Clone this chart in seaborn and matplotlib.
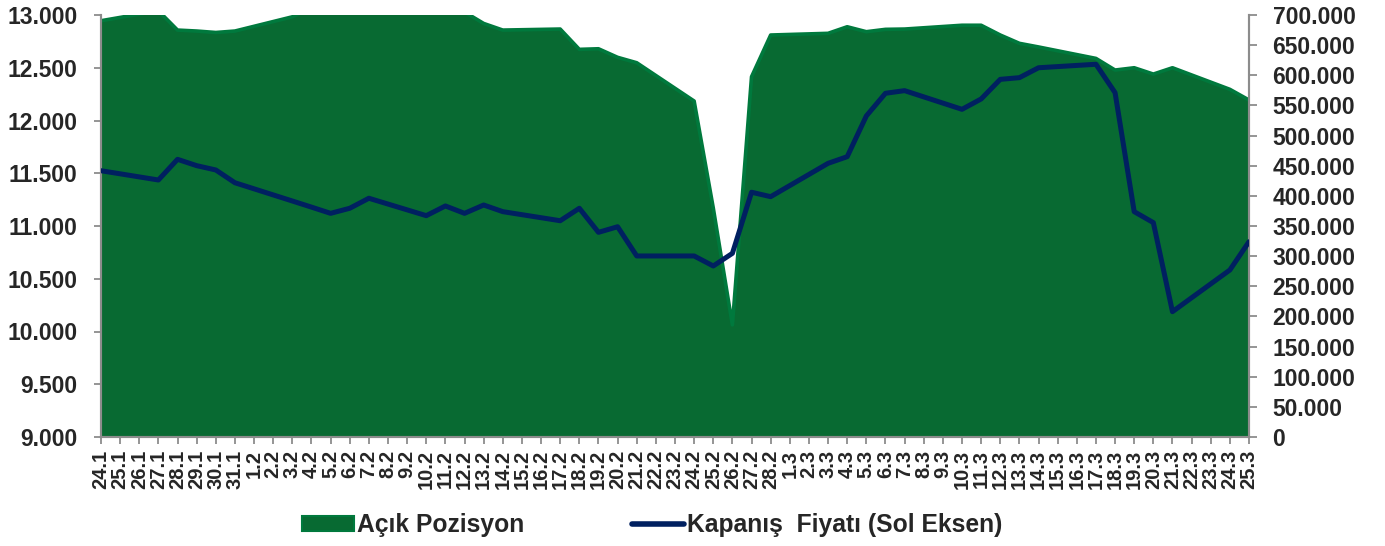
import matplotlib
matplotlib.use("Agg")
import matplotlib.pyplot as plt
import seaborn as sns
import pandas as pd
import numpy as np
from matplotlib.patches import Patch
from matplotlib.lines import Line2D
from matplotlib.ticker import FuncFormatter

# ---- data ----
trade_dates = [
    "2025-01-24", "2025-01-27", "2025-01-28", "2025-01-29", "2025-01-30", "2025-01-31",
    "2025-02-03", "2025-02-04", "2025-02-05", "2025-02-06", "2025-02-07",
    "2025-02-10", "2025-02-11", "2025-02-12", "2025-02-13", "2025-02-14",
    "2025-02-17", "2025-02-18", "2025-02-19", "2025-02-20", "2025-02-21",
    "2025-02-24", "2025-02-25", "2025-02-26", "2025-02-27", "2025-02-28",
    "2025-03-03", "2025-03-04", "2025-03-05", "2025-03-06", "2025-03-07",
    "2025-03-10", "2025-03-11", "2025-03-12", "2025-03-13", "2025-03-14",
    "2025-03-17", "2025-03-18", "2025-03-19", "2025-03-20", "2025-03-21",
    "2025-03-24", "2025-03-25",
]
closing_price = [
    11524, 11436, 11632, 11572, 11531, 11410,
    11237, 11179, 11120, 11168, 11263,
    11098, 11190, 11120, 11199, 11136,
    11050, 11168, 10940, 10993, 10716,
    10716, 10621, 10741, 11320, 11278,
    11594, 11657, 12043, 12258, 12283,
    12106, 12204, 12390, 12406, 12500,
    12533, 12264, 11136, 11032, 10188,
    10583, 10851,
]
open_interest = [
    690500, 707000, 675000, 673400, 671000, 673400,
    697000, 712000, 715000, 718000, 716000,
    712000, 710000, 705000, 686000, 675000,
    676700, 643000, 644000, 629800, 620800,
    557300, 380000, 186000, 597600, 666800,
    669600, 680500, 672300, 676200, 676700,
    683000, 683000, 666800, 653000, 647000,
    628000, 608700, 612500, 602000, 612500,
    576700, 559000,
]
tick_labels = [
    "24.1", "25.1", "26.1", "27.1", "28.1", "29.1", "30.1", "31.1",
    "1.2", "2.2", "3.2", "4.2", "5.2", "6.2", "7.2", "8.2", "9.2", "10.2",
    "11.2", "12.2", "13.2", "14.2", "15.2", "16.2", "17.2", "18.2", "19.2",
    "20.2", "21.2", "22.2", "23.2", "24.2", "25.2", "26.2", "27.2", "28.2",
    "1.3", "2.3", "3.3", "4.3", "5.3", "6.3", "7.3", "8.3", "9.3", "10.3",
    "11.3", "12.3", "13.3", "14.3", "15.3", "16.3", "17.3", "18.3", "19.3",
    "20.3", "21.3", "22.3", "23.3", "24.3", "25.3",
]
legend_labels = ["Açık Pozisyon", "Kapanış  Fiyatı (Sol Eksen)"]

# ---- style ----
FILL = "#086A32"
EDGE = "#00793D"
NAVY = "#002060"
GRAY = "#8C8C8C"

sns.set_style("white")
plt.rcParams["font.family"] = ["Liberation Sans", "DejaVu Sans"]
plt.rcParams["font.weight"] = "bold"

df = pd.DataFrame({
    "date": pd.to_datetime(trade_dates),
    "price": closing_price,
    "oi": open_interest,
})
tick_dates = pd.to_datetime(
    ["2025-%s-%s" % (lab.split(".")[1], lab.split(".")[0]) for lab in tick_labels]
)

fig = plt.figure(figsize=(13.85, 5.46), dpi=100)
W, H = 1385, 546
ax = fig.add_axes([101 / W, 1 - 437 / H, (1249 - 101) / W, (437 - 15) / H])
ax2 = ax.twinx()

# area (right axis)
ax2.fill_between(df["date"], 0, df["oi"], color=FILL, lw=0, zorder=1)
sns.lineplot(data=df, x="date", y="oi", ax=ax2, color=EDGE, lw=2.6, zorder=2)
# price line (left axis)
sns.lineplot(data=df, x="date", y="price", ax=ax, color=NAVY, lw=3.6, zorder=3)

ax.set_zorder(ax2.get_zorder() + 1)
ax.patch.set_visible(False)

ax.set_xlim(tick_dates[0], tick_dates[-1])
ax.set_ylim(9000, 13000)
ax2.set_ylim(0, 700000)
ax.set_yticks(np.arange(9000, 13001, 500))
ax2.set_yticks(np.arange(0, 700001, 50000))
ax.set_xticks(tick_dates)
ax.set_xticklabels(tick_labels)

fmt = FuncFormatter(lambda v, p: f"{v:,.0f}".replace(",", "."))
ax.yaxis.set_major_formatter(fmt)
ax2.yaxis.set_major_formatter(fmt)

for a in (ax, ax2):
    a.set_xlabel("")
    a.set_ylabel("")
    a.spines["top"].set_visible(False)
    for s in ("left", "right", "bottom"):
        a.spines[s].set_color(GRAY)
        a.spines[s].set_linewidth(1.5)

ax.tick_params(axis="y", left=True, direction="out", length=5, width=1.3,
               color=GRAY, pad=12, labelsize=16.5)
ax2.tick_params(axis="y", right=True, direction="out", length=6, width=1.3,
                color=GRAY, pad=11, labelsize=16.5)
ax.tick_params(axis="x", bottom=True, direction="out", length=5, width=1.3,
               color=GRAY, pad=4, labelsize=14.5, labelrotation=90)

handles = [
    Patch(facecolor=FILL, edgecolor=EDGE, linewidth=1.5),
    Line2D([0], [0], color=NAVY, lw=4),
]
fig.legend(handles, legend_labels, loc="center", bbox_to_anchor=(0.471, 0.038),
           ncol=2, frameon=False, fontsize=17.7, handlelength=2.1, handleheight=0.6,
           handletextpad=0.12, columnspacing=4.4)

fig.savefig("out.png", dpi=100)
